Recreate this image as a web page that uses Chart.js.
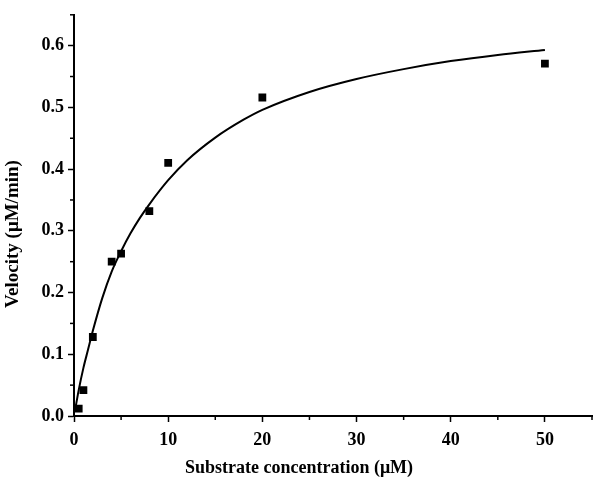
<!DOCTYPE html>
<html>
<head>
<meta charset="utf-8">
<script src="https://cdn.jsdelivr.net/npm/chart.js@4"></script>
<style>
  body { margin: 0; background: #fff; }
  #wrap { width: 600px; height: 483px; }
</style>
</head>
<body>
<div id="wrap"><canvas id="myChart"></canvas></div>
<script>
// measured points
const substrate = [0.5, 1, 2, 4, 5, 8, 10, 20, 50];
const velocity = [0.012, 0.042, 0.128, 0.25, 0.263, 0.332, 0.41, 0.516, 0.571];

// fitted curve
const curveX = [0.1, 0.5, 1, 1.5, 2, 3, 4, 5, 6, 7, 8, 10, 12, 15, 18, 20, 25, 30, 35, 40, 45, 50];
const curveY = [0.008, 0.042, 0.078, 0.108, 0.138, 0.191, 0.234, 0.267, 0.296, 0.321, 0.343, 0.382, 0.414, 0.451, 0.480, 0.496, 0.525, 0.546, 0.562, 0.575, 0.585, 0.593];

const xTitle = 'Substrate concentration (\u03bcM)';
const yTitle = 'Velocity (\u03bcM/min)';

const FONT = '"Liberation Serif", "Times New Roman", serif';

function isMajor(v, step) {
  return Math.abs(Math.round(v / step) * step - v) < 1e-6;
}

// short minor ticks (5, 15, ... / 0.05, 0.15, ...)
const minorTicks = {
  id: 'minorTicks',
  afterDraw(chart) {
    const c = chart.ctx;
    c.save();
    c.strokeStyle = '#000';
    c.lineWidth = 1.5;
    const xs = chart.scales.x, ys = chart.scales.y;
    xs.ticks.forEach(t => {
      if (isMajor(t.value, 10)) return;
      const px = xs.getPixelForValue(t.value);
      c.beginPath();
      c.moveTo(px, xs.top);
      c.lineTo(px, xs.top + 4);
      c.stroke();
    });
    ys.ticks.forEach(t => {
      if (isMajor(t.value, 0.1)) return;
      const py = ys.getPixelForValue(t.value);
      c.beginPath();
      c.moveTo(ys.right, py);
      c.lineTo(ys.right - 4, py);
      c.stroke();
    });
    c.restore();
  }
};

// axis titles, placed like the original (centred on the page, not the plot)
const axisTitles = {
  id: 'axisTitles',
  afterDraw(chart) {
    const c = chart.ctx;
    c.save();
    c.fillStyle = '#000';
    c.textAlign = 'center';
    c.textBaseline = 'middle';
    c.font = 'bold 18px ' + FONT;
    c.fillText(xTitle, 299, 468);
    c.translate(13, 234);
    c.rotate(-Math.PI / 2);
    c.font = 'bold 19px ' + FONT;
    c.fillText(yTitle, 0, 0);
    c.restore();
  }
};

const pts = substrate.map((s, i) => ({ x: s, y: velocity[i] }));
const fit = curveX.map((s, i) => ({ x: s, y: curveY[i] }));

new Chart(document.getElementById('myChart'), {
  type: 'scatter',
  data: {
    datasets: [{
      data: fit,
      showLine: true,
      borderColor: '#000',
      borderWidth: 2,
      pointRadius: 0,
      cubicInterpolationMode: 'monotone'
    }, {
      data: pts,
      pointStyle: 'rect',
      pointRadius: 5.5,
      backgroundColor: '#000',
      borderColor: '#000',
      borderWidth: 0
    }]
  },
  options: {
    responsive: true,
    maintainAspectRatio: false,
    animation: false,
    layout: { padding: { top: 5, right: 5, bottom: 5, left: 0 } },
    plugins: { legend: { display: false }, tooltip: { enabled: false } },
    scales: {
      x: {
        type: 'linear',
        min: 0, max: 55,
        afterFit: s => { s.height = 62; },
        ticks: {
          stepSize: 5,
          autoSkip: false,
          maxRotation: 0,
          padding: 8,
          color: '#000',
          font: { family: FONT, size: 18, weight: 'bold' },
          callback: v => isMajor(v, 10) ? v : ''
        },
        grid: {
          drawOnChartArea: false,
          tickLength: 6,
          tickWidth: 1.5,
          tickColor: ctx => (ctx.tick && isMajor(ctx.tick.value, 10)) ? '#000' : 'rgba(0,0,0,0)'
        },
        border: { color: '#000', width: 2 }
      },
      y: {
        min: 0, max: 0.65,
        afterFit: s => { s.width = 74; },
        ticks: {
          stepSize: 0.05,
          autoSkip: false,
          padding: 4,
          color: '#000',
          font: { family: FONT, size: 18, weight: 'bold' },
          callback: v => isMajor(v, 0.1) ? v.toFixed(1) : ''
        },
        grid: {
          drawOnChartArea: false,
          tickLength: 6,
          tickWidth: 1.5,
          tickColor: ctx => (ctx.tick && isMajor(ctx.tick.value, 0.1)) ? '#000' : 'rgba(0,0,0,0)'
        },
        border: { color: '#000', width: 2 }
      }
    }
  },
  plugins: [minorTicks, axisTitles]
});
</script>
</body>
</html>
